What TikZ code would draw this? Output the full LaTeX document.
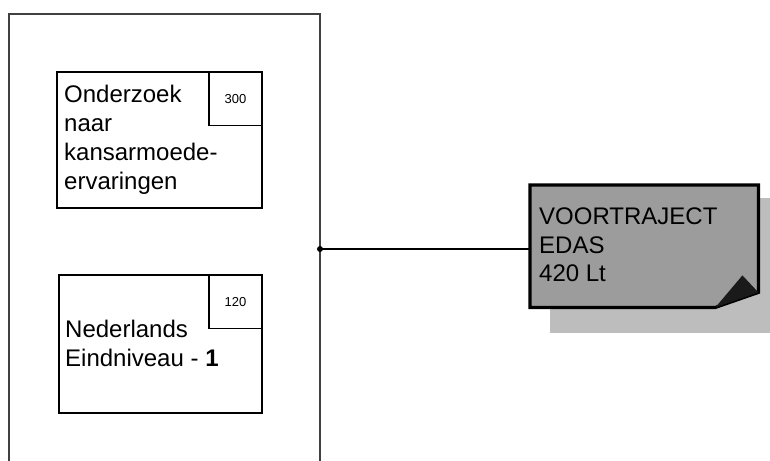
\documentclass[tikz,border=0pt]{standalone}
\usepackage{fontspec}
\setmainfont{Liberation Sans}
\definecolor{notefill}{HTML}{9C9C9C}
\definecolor{shadowfill}{HTML}{BDBDBD}
\definecolor{foldfill}{HTML}{1A1A1A}
\definecolor{framecol}{HTML}{404040}
\begin{document}
\begin{tikzpicture}[x=1pt,y=-1pt,
  framestyle/.style={draw=framecol, line width=1.4pt},
  taskbox/.style={draw=black, line width=1.6pt, rectangle, inner sep=0pt, anchor=north west},
  numbox/.style={draw=black, line width=1.4pt, rectangle, inner sep=0pt, anchor=north east,
    minimum width=53pt, minimum height=54pt, font=\fontsize{13}{15}\selectfont},
  boxtext/.style={anchor=north west, inner sep=0pt, align=left, font=\fontsize{24}{29}\selectfont},
  notetext/.style={anchor=north west, inner sep=0pt, align=left, font=\fontsize{24}{28.5}\selectfont},
  notebody/.style={fill=notefill, draw=black, line width=3.2pt, line join=miter},
  conn/.style={draw=black, line width=1.2pt}]
\useasboundingbox (0,0) rectangle (770,460);
% outer frame (open at the bottom)
\draw[framestyle] (9,470) -- (9,14) -- (320,14) -- (320,470);
% first task box
\node[taskbox, minimum width=205pt, minimum height=136pt] (b1) at (56,71) {};
\node[numbox] (n1) at (b1.north east) {300};
\node[boxtext] (t1) at (64,84.5) {Onderzoek\\naar\\kansarmoede-\\ervaringen};
% second task box
\node[taskbox, minimum width=203pt, minimum height=138pt] (b2) at (58,274) {};
\node[numbox] (n2) at (b2.north east) {120};
\node[boxtext] (t2) at (65,320) {Nederlands\\Eindniveau - \textbf{1}};
% note
\node[minimum width=228pt, minimum height=122pt, inner sep=0pt, anchor=north west] (note) at (530,185) {};
\fill[shadowfill] ([xshift=20pt,yshift=-13pt]note.north west) rectangle ([xshift=17pt,yshift=-26pt]note.south east);
\path[notebody] (note.north west) -- (note.north east) -- ([yshift=15pt]note.south east)
  -- ([xshift=-43pt]note.south east) -- (note.south west) -- cycle;
\fill[foldfill] ([yshift=15pt]note.south east) -- ([xshift=-16pt,yshift=32pt]note.south east)
  -- ([xshift=-43pt]note.south east) -- cycle;
\node[notetext] (nt) at (539,207.8) {VOORTRAJECT\\EDAS\\420 Lt};
% connector
\coordinate (fr) at (320,249);
\draw[conn] (fr) -- (fr -| note.west);
\fill (fr) circle (3pt);
\end{tikzpicture}
\end{document}
